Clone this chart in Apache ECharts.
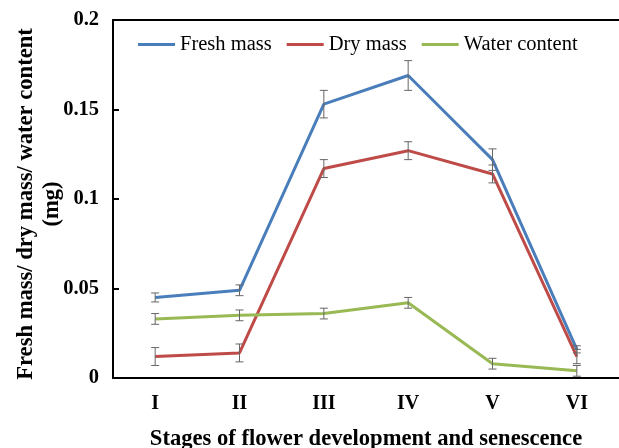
<!DOCTYPE html>
<html>
<head>
<meta charset="utf-8">
<script src="https://cdn.jsdelivr.net/npm/echarts@6/dist/echarts.min.js"></script>
<style>html,body{margin:0;padding:0;background:#fff}#c{width:619px;height:448px}</style>
</head>
<body>
<div id="c"></div>
<script>
var categories = ['I', 'II', 'III', 'IV', 'V', 'VI'];
var freshMass = [0.045, 0.049, 0.153, 0.169, 0.122, 0.016];
var freshErr = [0.0025, 0.003, 0.0077, 0.0083, 0.006, 0.002];
var dryMass = [0.012, 0.014, 0.117, 0.127, 0.114, 0.012];
var dryErr = [0.005, 0.005, 0.005, 0.005, 0.005, 0.004];
var waterContent = [0.033, 0.035, 0.036, 0.042, 0.008, 0.004];
var waterErr = [0.003, 0.003, 0.003, 0.003, 0.003, 0.003];
var yTicks = [0, 0.05, 0.1, 0.15, 0.2];

var FONT = "'Liberation Serif', 'Times New Roman', Times, serif";
function errData(vals, errs) {
  return vals.map(function (v, i) { return [i, v - errs[i], v + errs[i]]; });
}
function renderErr(params, api) {
  var x = api.value(0);
  var lo = api.coord([x, api.value(1)]);
  var hi = api.coord([x, api.value(2)]);
  var hw = 4;
  var st = { stroke: '#666', lineWidth: 1 };
  return {
    type: 'group',
    children: [
      { type: 'line', shape: { x1: lo[0], y1: lo[1], x2: hi[0], y2: hi[1] }, style: st },
      { type: 'line', shape: { x1: lo[0] - hw, y1: lo[1], x2: lo[0] + hw, y2: lo[1] }, style: st },
      { type: 'line', shape: { x1: hi[0] - hw, y1: hi[1], x2: hi[0] + hw, y2: hi[1] }, style: st }
    ]
  };
}
function lineSeries(name, data, color) {
  return {
    name: name, type: 'line', data: data, showSymbol: false, symbol: 'none',
    lineStyle: { color: color, width: 3 }, itemStyle: { color: color }, z: 3
  };
}
function errSeries(name, vals, errs) {
  return {
    name: name, type: 'custom', data: errData(vals, errs), renderItem: renderErr,
    encode: { x: 0, y: [1, 2] }, z: 4, silent: true
  };
}
var chart = echarts.init(document.getElementById('c'), null, { renderer: 'canvas' });
chart.setOption({
  animation: false,
  backgroundColor: '#fff',
  textStyle: { fontFamily: FONT },
  grid: { left: 113, right: 0, top: 20, bottom: 70, containLabel: false, outerBoundsMode: 'none' },
  legend: {
    data: ['Fresh mass', 'Dry mass', 'Water content'],
    left: 133, top: 29,
    icon: 'rect', itemWidth: 37, itemHeight: 3, itemGap: 15,
    textStyle: { fontFamily: FONT, fontSize: 20.5, color: '#000' }
  },
  xAxis: [{
    type: 'category', data: categories, boundaryGap: true,
    axisLine: { lineStyle: { color: '#000', width: 2 } },
    axisTick: { inside: true, length: 6, lineStyle: { color: '#000', width: 2 } },
    axisLabel: { fontFamily: FONT, fontSize: 20, fontWeight: 'bold', color: '#000', margin: 16 },
    name: 'Stages of flower development and senescence',
    nameLocation: 'middle', nameGap: 50,
    nameTextStyle: { fontFamily: FONT, fontSize: 22.6, fontWeight: 'bold', color: '#000' }
  }, {
    type: 'category', data: categories, position: 'top',
    axisLine: { show: true, lineStyle: { color: '#000', width: 2 } },
    axisTick: { show: false }, axisLabel: { show: false }
  }],
  yAxis: {
    type: 'value', min: yTicks[0], max: yTicks[yTicks.length - 1], interval: 0.05,
    splitLine: { show: false },
    axisLine: { show: true, lineStyle: { color: '#000', width: 2 } },
    axisTick: { show: true, inside: true, length: 6, lineStyle: { color: '#000', width: 2 } },
    axisLabel: {
      fontFamily: FONT, fontSize: 20.5, fontWeight: 'bold', color: '#000', margin: 14,
      formatter: function (v) { return String(Math.round(v * 100) / 100); }
    },
    name: 'Fresh mass/ dry mass/ water content\n(mg)',
    nameLocation: 'middle', nameGap: 48, nameMoveOverlap: false,
    nameTextStyle: { fontFamily: FONT, fontSize: 22.6, fontWeight: 'bold', color: '#000', lineHeight: 26, padding: [0, 10, 0, 0] }
  },
  series: [
    lineSeries('Fresh mass', freshMass, '#4a7ebb'),
    lineSeries('Dry mass', dryMass, '#be4b48'),
    lineSeries('Water content', waterContent, '#98b954'),
    errSeries('fe', freshMass, freshErr),
    errSeries('de', dryMass, dryErr),
    errSeries('we', waterContent, waterErr)
  ]
});
</script>
</body>
</html>
